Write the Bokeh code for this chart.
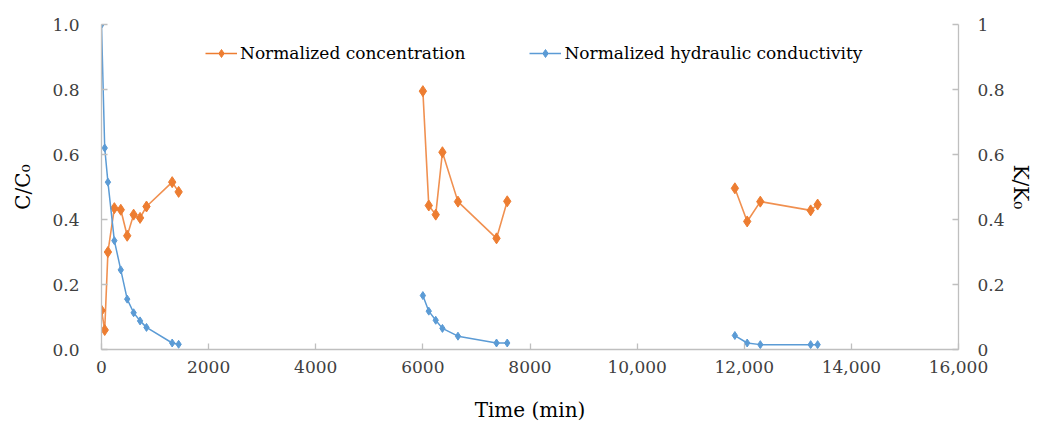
from bokeh.plotting import figure
from bokeh.models import (Range1d, LinearAxis, FixedTicker, CustomJSTickFormatter,
                          Legend, LegendItem)
from bokeh.embed import file_html
from bokeh.resources import INLINE

# ---- data ----
time_1 = [0, 60, 120, 240, 360, 480, 600, 720, 840, 1320, 1440]
conc_1 = [0.12, 0.06, 0.30, 0.435, 0.43, 0.35, 0.415, 0.405, 0.44, 0.515, 0.485]
cond_1 = [1.0, 0.62, 0.515, 0.335, 0.245, 0.155, 0.113, 0.088, 0.068, 0.02, 0.016]

time_2 = [6000, 6110, 6240, 6365, 6655, 7375, 7575]
conc_2 = [0.795, 0.443, 0.415, 0.607, 0.455, 0.342, 0.456]
cond_2 = [0.166, 0.118, 0.09, 0.065, 0.041, 0.02, 0.02]

time_3 = [11825, 12055, 12300, 13240, 13370]
conc_3 = [0.496, 0.394, 0.455, 0.428, 0.446]
cond_3 = [0.043, 0.02, 0.015, 0.015, 0.015]

x_ticks = [0, 2000, 4000, 6000, 8000, 10000, 12000, 14000, 16000]
y_ticks = [0, 0.2, 0.4, 0.6, 0.8, 1.0]

series_names = ["Normalized concentration", "Normalized hydraulic conductivity"]

ORANGE = "#ED7D31"
BLUE = "#5B9BD5"
AXIS = "#BFBFBF"
FONT = "DejaVu Serif"

p = figure(width=1038, height=428, output_backend="svg", toolbar_location=None,
           x_range=Range1d(0, 16000), y_range=Range1d(0, 1),
           min_border_left=101, min_border_right=80, min_border_top=24,
           min_border_bottom=79)
p.outline_line_color = None
p.grid.visible = False
p.background_fill_color = "white"
p.border_fill_color = "white"

# right axis
p.extra_y_ranges = {"k": Range1d(0, 1)}
raxis = LinearAxis(y_range_name="k")
p.add_layout(raxis, "right")

# data
clusters = [(time_1, conc_1, cond_1), (time_2, conc_2, cond_2), (time_3, conc_3, cond_3)]
for t, c, k in clusters:
    p.line(t, c, line_color=ORANGE, line_width=1.6, line_alpha=0.85)
    p.scatter(t, c, marker="diamond", size=11, fill_color=ORANGE, line_color=ORANGE)
    p.line(t, k, line_color=BLUE, line_width=1.5, y_range_name="k")
    p.scatter(t, k, marker="diamond", size=8, fill_color=BLUE, line_color=BLUE,
              y_range_name="k")

# legend-only (hidden) renderers with small markers, as in the reference
lc_line = p.line(time_1, conc_1, line_color=ORANGE, line_width=1.5, visible=False)
lc_mark = p.scatter(time_1, conc_1, marker="diamond", size=7, fill_color=ORANGE,
                    line_color=ORANGE, visible=False)
lk_line = p.line(time_1, cond_1, line_color=BLUE, line_width=1.5, visible=False,
                 y_range_name="k")
lk_mark = p.scatter(time_1, cond_1, marker="diamond", size=6, fill_color=BLUE,
                    line_color=BLUE, visible=False, y_range_name="k")

legend = Legend(items=[LegendItem(label=series_names[0], renderers=[lc_line, lc_mark]),
                       LegendItem(label=series_names[1], renderers=[lk_line, lk_mark])],
                orientation="horizontal", location=(104, 286),
                glyph_width=32, glyph_height=20, label_standoff=3, spacing=64,
                padding=0, margin=0, border_line_alpha=0, background_fill_alpha=0,
                inactive_fill_alpha=0,
                label_text_font=FONT, label_text_font_size="17px",
                label_text_color="#000000")
p.add_layout(legend)

# x axis
xa = p.xaxis[0]
xa.ticker = FixedTicker(ticks=x_ticks)
xa.formatter = CustomJSTickFormatter(code="""
    if (tick >= 10000) { return tick.toString().replace(/\\B(?=(\\d{3})+(?!\\d))/g, ','); }
    return tick.toString();
""")
xa.axis_label = "Time (min)"

# left axis
la = p.yaxis[0]
la.ticker = FixedTicker(ticks=y_ticks)
la.formatter = CustomJSTickFormatter(code="return tick.toFixed(1);")
la.axis_label = "C/C\u2080"

raxis.ticker = FixedTicker(ticks=y_ticks)
raxis.formatter = CustomJSTickFormatter(code="""
    if (Math.abs(tick) < 1e-9 || Math.abs(tick - 1) < 1e-9) { return tick.toFixed(0); }
    return tick.toFixed(1);
""")
raxis.axis_label = "K/K\u2080"

for ax in [xa, la, raxis]:
    ax.axis_line_color = AXIS
    ax.axis_line_width = 1.3
    ax.major_tick_line_color = AXIS
    ax.major_tick_line_width = 1.3
    ax.minor_tick_line_color = None
    ax.major_tick_in = 6
    ax.major_tick_out = 0
    ax.major_label_text_font = FONT
    ax.major_label_text_font_size = "17px"
    ax.major_label_text_color = "#404040"
    ax.axis_label_text_font = FONT
    ax.axis_label_text_font_size = "20px"
    ax.axis_label_text_font_style = "normal"
    ax.axis_label_text_color = "#000000"

xa.major_label_standoff = 11
xa.axis_label_standoff = 22
la.major_label_standoff = 22
la.axis_label_standoff = 14
raxis.major_label_standoff = 19
raxis.axis_label_standoff = 1

open("out.html", "w").write(file_html(p, INLINE))
